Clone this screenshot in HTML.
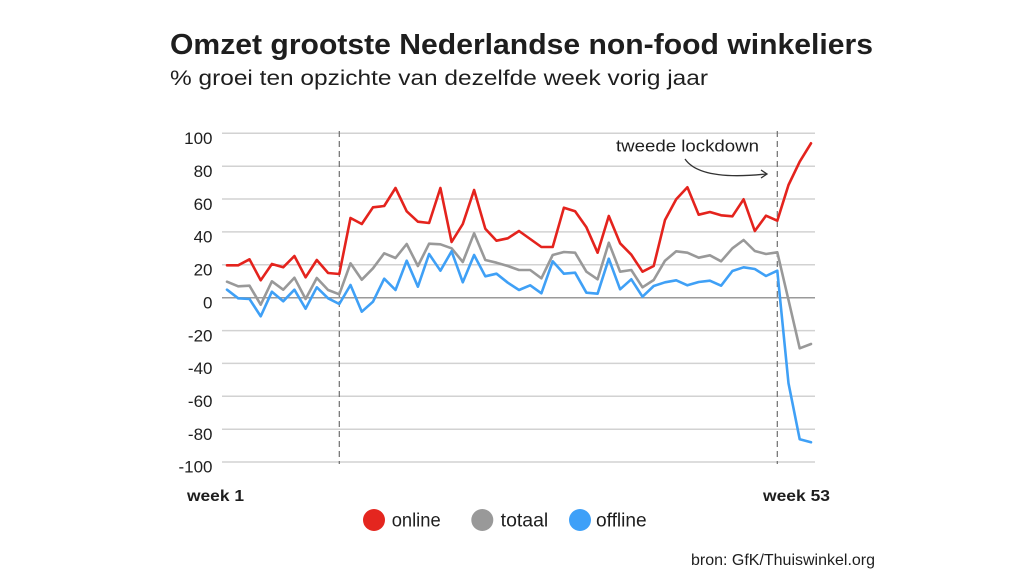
<!DOCTYPE html>
<html><head><meta charset="utf-8"><style>
html,body{margin:0;padding:0;background:#fff;}
svg{display:block;}
text{font-family:"Liberation Sans",sans-serif;fill:#1e1e1e;}
</style></head><body>
<svg width="1024" height="576" viewBox="0 0 1024 576" xmlns="http://www.w3.org/2000/svg">
<rect width="1024" height="576" fill="#fff"/>
<text x="170" y="54" font-size="29" font-weight="bold" textLength="703" lengthAdjust="spacingAndGlyphs">Omzet grootste Nederlandse non-food winkeliers</text>
<text x="170" y="85" font-size="21" textLength="538" lengthAdjust="spacingAndGlyphs">% groei ten opzichte van dezelfde week vorig jaar</text>

<g stroke="#d2d2d2" stroke-width="1.5">
<line x1="222" x2="815" y1="133.3" y2="133.3"/>
<line x1="222" x2="815" y1="166.2" y2="166.2"/>
<line x1="222" x2="815" y1="199.0" y2="199.0"/>
<line x1="222" x2="815" y1="231.9" y2="231.9"/>
<line x1="222" x2="815" y1="264.8" y2="264.8"/>
<line x1="222" x2="815" y1="330.6" y2="330.6"/>
<line x1="222" x2="815" y1="363.4" y2="363.4"/>
<line x1="222" x2="815" y1="396.3" y2="396.3"/>
<line x1="222" x2="815" y1="429.2" y2="429.2"/>
<line x1="222" x2="815" y1="462.0" y2="462.0"/>
</g>
<line x1="222" x2="815" y1="297.7" y2="297.7" stroke="#9a9a9a" stroke-width="1.5"/>

<g font-size="17" text-anchor="end">
<text x="212.5" y="144">100</text>
<text x="212.5" y="177">80</text>
<text x="212.5" y="210">60</text>
<text x="212.5" y="242.6">40</text>
<text x="212.5" y="275.5">20</text>
<text x="212.5" y="308.4">0</text>
<text x="212.5" y="341.3">-20</text>
<text x="212.5" y="374.1">-40</text>
<text x="212.5" y="407">-60</text>
<text x="212.5" y="439.9">-80</text>
<text x="212.5" y="472.7">-100</text>
</g>

<g stroke="#6e6e6e" stroke-width="1.2" stroke-dasharray="6,4">
<line x1="339.3" x2="339.3" y1="131" y2="464"/>
<line x1="777.3" x2="777.3" y1="131" y2="464"/>
</g>

<text x="616" y="151.7" font-size="17" textLength="143" lengthAdjust="spacingAndGlyphs">tweede lockdown</text>
<path d="M685,159 Q700,181 766,174" fill="none" stroke="#333" stroke-width="1.3"/>
<path d="M761,170 L767,174 L761,178" fill="none" stroke="#333" stroke-width="1.3"/>

<g fill="none" stroke-width="2.6" stroke-linejoin="round" stroke-linecap="round">
<polyline stroke="#999999" points="227.0,281.7 238.2,286.3 249.5,285.7 260.7,304.7 271.9,281.3 283.2,289.7 294.4,277.7 305.6,299 316.8,278 328.1,290 339.3,294.3 350.5,263.3 361.8,279.7 373.0,268.3 384.2,253.3 395.5,258 406.7,244 417.9,266 429.1,243.7 440.4,244.3 451.6,248.3 462.8,262 474.1,233.3 485.3,260 496.5,262.7 507.8,266 519.0,270 530.2,270 541.4,278.3 552.7,255 563.9,252 575.1,252.7 586.4,271.7 597.6,279.3 608.8,242.7 620.1,271.7 631.3,270 642.5,287.3 653.7,280 665.0,260.7 676.2,251.3 687.4,252.7 698.7,257.7 709.9,255.3 721.1,261.3 732.4,248.3 743.6,240 754.8,251 766.0,254 777.3,252.3 788.5,300 799.7,348.3 811.0,344"/>
<polyline stroke="#3fa0f6" points="227.0,289.7 238.2,298.3 249.5,299 260.7,316.3 271.9,291.7 283.2,301.3 294.4,289.7 305.6,308.7 316.8,287.3 328.1,298.3 339.3,304 350.5,285 361.8,311.7 373.0,301.7 384.2,278.7 395.5,290 406.7,260.7 417.9,286.7 429.1,254 440.4,270.7 451.6,251.3 462.8,282.3 474.1,255 485.3,276.3 496.5,273.7 507.8,282.7 519.0,290 530.2,285.3 541.4,293.3 552.7,261.3 563.9,273.7 575.1,272.7 586.4,292.7 597.6,293.7 608.8,258.7 620.1,289.3 631.3,279.3 642.5,296.7 653.7,286 665.0,282.3 676.2,280.3 687.4,285.3 698.7,282 709.9,280.7 721.1,285.7 732.4,271 743.6,267.3 754.8,269 766.0,276 777.3,270.7 788.5,383.3 799.7,439.3 811.0,442.3"/>
<polyline stroke="#e4231d" points="227.0,265.3 238.2,265.3 249.5,259.3 260.7,280.3 271.9,264 283.2,267.3 294.4,256 305.6,277.3 316.8,260 328.1,273 339.3,274 350.5,218 361.8,224 373.0,207.3 384.2,206 395.5,188 406.7,211.3 417.9,221.7 429.1,223 440.4,188 451.6,242 462.8,224 474.1,190 485.3,228.7 496.5,240.7 507.8,238.3 519.0,231 530.2,239 541.4,247 552.7,247 563.9,207.7 575.1,211.3 586.4,227.3 597.6,252.7 608.8,216 620.1,243.3 631.3,254.7 642.5,271.7 653.7,266 665.0,220 676.2,199.3 687.4,187.3 698.7,214.7 709.9,212 721.1,215.3 732.4,216.3 743.6,199.3 754.8,231 766.0,215.7 777.3,220.7 788.5,185 799.7,161.7 811.0,143.3"/>
</g>

<text x="187" y="501" font-size="16" font-weight="bold" textLength="57" lengthAdjust="spacingAndGlyphs">week 1</text>
<text x="763" y="501" font-size="16" font-weight="bold" textLength="67" lengthAdjust="spacingAndGlyphs">week 53</text>

<circle cx="374" cy="520" r="11" fill="#e4261f"/>
<text x="391.7" y="526.7" font-size="19" textLength="49" lengthAdjust="spacingAndGlyphs">online</text>
<circle cx="482.3" cy="520" r="11" fill="#999999"/>
<text x="500.7" y="526.7" font-size="19" textLength="47.5" lengthAdjust="spacingAndGlyphs">totaal</text>
<circle cx="580" cy="520" r="11" fill="#3ea0f8"/>
<text x="596" y="526.7" font-size="19" textLength="50.7" lengthAdjust="spacingAndGlyphs">offline</text>

<text x="691" y="565" font-size="16" textLength="184" lengthAdjust="spacingAndGlyphs">bron: GfK/Thuiswinkel.org</text>
</svg>
</body></html>
